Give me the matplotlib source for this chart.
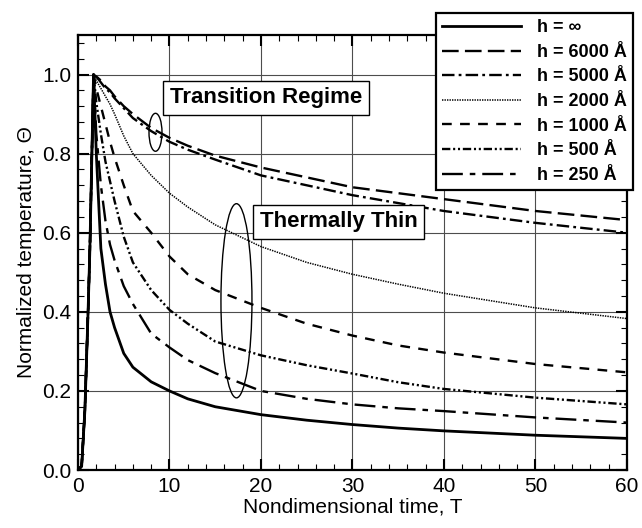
import matplotlib

matplotlib.use("Agg")
from matplotlib import pyplot as plt
from matplotlib.patches import Ellipse
from matplotlib.ticker import MultipleLocator, FormatStrFormatter

plt.rcParams["font.family"] = ["Liberation Sans", "DejaVu Sans"]
plt.rcParams["lines.scale_dashes"] = False

# nondimensional time, shared by all curves
T = [0, 0.4, 0.75, 1.1, 1.3, 1.5,
     1.7, 2, 2.5, 3, 3.5, 4, 5, 6, 8, 10, 12, 15, 20, 25, 30, 35, 40, 50, 60]

# heating part is the same for every film thickness
RISE = [0, 0.01, 0.15, 0.4, 0.56, 0.78]

H_INF = RISE + [1.0, 0.8, 0.56, 0.47, 0.40, 0.36, 0.295, 0.26, 0.223, 0.2, 0.18, 0.16, 0.14, 0.126, 0.115, 0.106, 0.099, 0.088, 0.08]
H_6000 = RISE + [1.0, 0.995, 0.985, 0.97, 0.96, 0.945, 0.92, 0.9, 0.865, 0.84, 0.82, 0.795, 0.765, 0.74, 0.715, 0.7, 0.685, 0.655, 0.632]
H_5000 = RISE + [1.0, 0.995, 0.98, 0.965, 0.955, 0.94, 0.915, 0.89, 0.857, 0.83, 0.81, 0.785, 0.745, 0.72, 0.695, 0.675, 0.655, 0.625, 0.6]
H_2000 = RISE + [1.0, 0.985, 0.965, 0.945, 0.925, 0.9, 0.845, 0.8, 0.745, 0.7, 0.665, 0.62, 0.565, 0.525, 0.495, 0.47, 0.447, 0.41, 0.383]
H_1000 = RISE + [1.0, 0.965, 0.92, 0.875, 0.83, 0.79, 0.72, 0.655, 0.6, 0.54, 0.495, 0.455, 0.41, 0.37, 0.34, 0.315, 0.297, 0.268, 0.247]
H_500 = RISE + [1.0, 0.93, 0.85, 0.78, 0.73, 0.68, 0.59, 0.525, 0.455, 0.405, 0.37, 0.325, 0.29, 0.265, 0.244, 0.222, 0.205, 0.183, 0.166]
H_250 = RISE + [1.0, 0.85, 0.72, 0.63, 0.57, 0.53, 0.465, 0.42, 0.345, 0.31, 0.278, 0.245, 0.2, 0.18, 0.166, 0.156, 0.149, 0.133, 0.12]

LABELS = ["h = ∞", "h = 6000 Å", "h = 5000 Å", "h = 2000 Å", "h = 1000 Å", "h = 500 Å", "h = 250 Å"]
SERIES = [H_INF, H_6000, H_5000, H_2000, H_1000, H_500, H_250]

STYLES = [
    dict(linestyle="-", linewidth=2.0),
    dict(linestyle=(0, (12, 4.5)), linewidth=1.7),
    dict(linestyle=(0, (9, 3, 2, 3)), linewidth=1.7),
    dict(linestyle=(0, (1, 0.8)), linewidth=1.1),
    dict(linestyle=(0, (7, 6)), linewidth=1.7),
    dict(linestyle=(0, (6, 2, 1.5, 2, 1.5, 2)), linewidth=1.7),
    dict(linestyle=(0, (15, 5, 4, 5)), linewidth=1.7),
]

fig = plt.figure(figsize=(6.42, 5.28), dpi=100)
ax = fig.add_axes([0.1215, 0.1098, 0.855, 0.8239])

for values, label, style in zip(SERIES, LABELS, STYLES):
    ax.plot(T, values, color="black", label=label, **style)

ax.set_xlim(0, 60)
ax.set_ylim(0, 1.1)
ax.xaxis.set_major_locator(MultipleLocator(10))
ax.xaxis.set_minor_locator(MultipleLocator(2))
ax.yaxis.set_major_locator(MultipleLocator(0.2))
ax.yaxis.set_minor_locator(MultipleLocator(0.04))
ax.yaxis.set_major_formatter(FormatStrFormatter("%.1f"))
ax.grid(which="major", color="0.3", linewidth=0.8)
ax.set_axisbelow(True)
ax.tick_params(which="both", direction="in", top=True, right=True, labelsize=15)
ax.tick_params(which="major", length=8, width=1.5, pad=5)
ax.tick_params(which="minor", length=4, width=0.8)
for spine in ax.spines.values():
    spine.set_linewidth(1.6)

ax.set_xlabel("Nondimensional time, T", fontsize=15, labelpad=1)
ax.set_ylabel("Normalized temperature, Θ", fontsize=15, labelpad=4)

box = dict(boxstyle="square,pad=0.3", facecolor="white", edgecolor="black", linewidth=1.0)
ax.text(20.55, 0.941, "Transition Regime", fontsize=16, fontweight="bold",
        ha="center", va="center", bbox=box)
ax.text(28.5, 0.628, "Thermally Thin", fontsize=16, fontweight="bold",
        ha="center", va="center", bbox=box)
ax.add_patch(Ellipse((8.47, 0.854), 1.42, 0.096, fill=False, edgecolor="black", linewidth=1.0))
ax.add_patch(Ellipse((17.32, 0.428), 3.39, 0.491, fill=False, edgecolor="black", linewidth=1.0))

leg = fig.legend(loc="upper right", bbox_to_anchor=(633 / 642, 1 - 13 / 528),
                 prop=dict(weight="bold", size=13), handlelength=4.4,
                 handletextpad=0.85, labelspacing=0.42, fancybox=False,
                 framealpha=1, edgecolor="black", borderaxespad=0, borderpad=0.35)
leg.get_frame().set_linewidth(1.6)

fig.savefig("out.png", dpi=100)
